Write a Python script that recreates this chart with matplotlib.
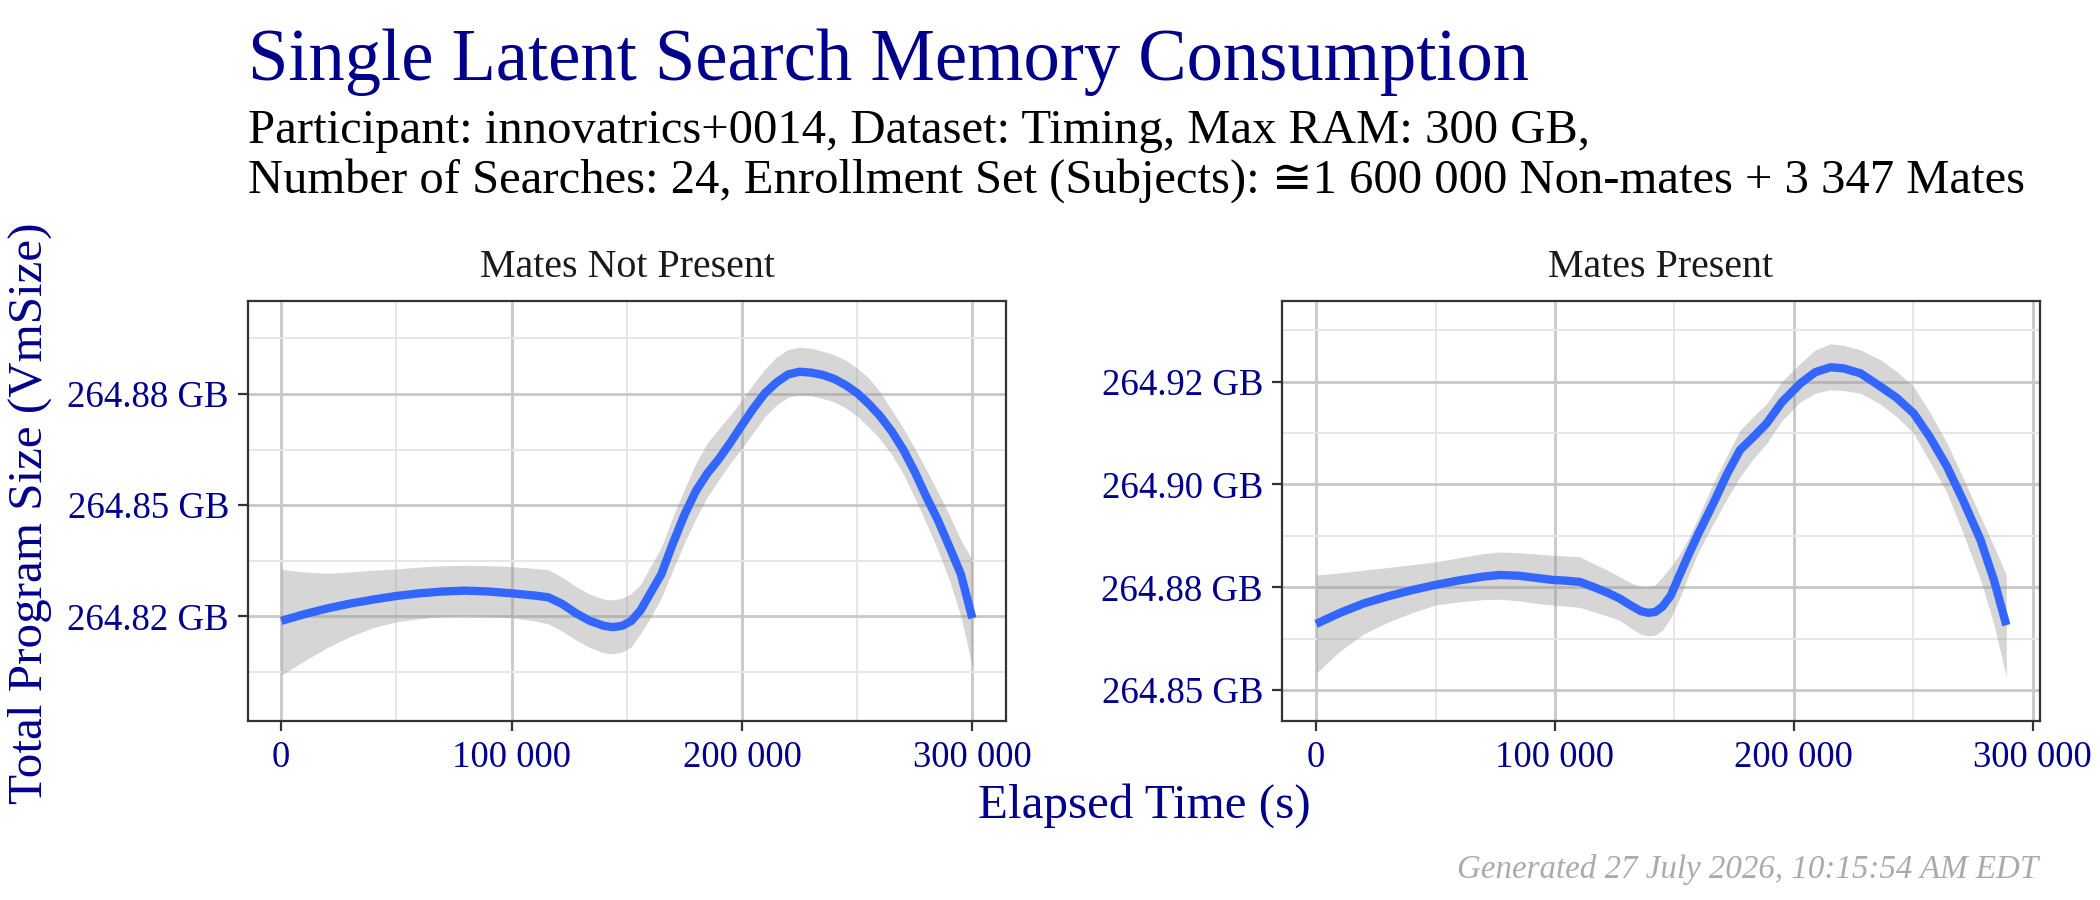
import matplotlib
matplotlib.use("Agg")
import matplotlib.pyplot as plt

# ---------------- data ----------------
title = "Single Latent Search Memory Consumption"
subtitle_1 = "Participant: innovatrics+0014, Dataset: Timing, Max RAM: 300 GB,"
subtitle_2 = "Number of Searches: 24, Enrollment Set (Subjects): \u22451 600 000 Non-mates + 3 347 Mates"
x_title = "Elapsed Time (s)"
y_title = "Total Program Size (VmSize)"
footer = "Generated 27 July 2026, 10:15:54 AM EDT"
facets = ["Mates Not Present", "Mates Present"]

# Mates Not Present (elapsed seconds, GB): smoothed fit and its confidence band
np_time = [0, 10000, 20000, 30000, 40000, 50000, 60000, 70000, 80000, 90000,
           100000, 110000, 116000, 122000, 128000, 134000, 140000, 144000, 148000, 152000,
           156000, 160000, 165000, 170000, 175000, 180000, 185000, 190000, 195000, 200000,
           205000, 210000, 215000, 220000, 225000, 230000, 235000, 240000, 245000, 250000,
           255000, 260000, 265000, 270000, 275000, 280000, 285000, 290000, 295000, 300000]
np_fit = [264.8240, 264.8255, 264.8268, 264.8279, 264.8288, 264.8296, 264.8302, 264.8306, 264.8308, 264.8306,
          264.8302, 264.8297, 264.8293, 264.8278, 264.8257, 264.8240, 264.8229, 264.8226, 264.8229, 264.8240,
          264.8264, 264.8300, 264.8345, 264.8414, 264.8478, 264.8532, 264.8572, 264.8604, 264.8641, 264.8680,
          264.8718, 264.8752, 264.8776, 264.8794, 264.8800, 264.8798, 264.8793, 264.8784, 264.8770, 264.8752,
          264.8728, 264.8700, 264.8666, 264.8625, 264.8575, 264.8519, 264.8467, 264.8407, 264.8345, 264.8246]
np_upper = [264.8356, 264.8350, 264.8347, 264.8350, 264.8354, 264.8357, 264.8361, 264.8364, 264.8365, 264.8364,
            264.8362, 264.8358, 264.8355, 264.8338, 264.8317, 264.8300, 264.8289, 264.8287, 264.8291, 264.8302,
            264.8322, 264.8360, 264.8405, 264.8474, 264.8535, 264.8595, 264.8640, 264.8672, 264.8703, 264.8737,
            264.8773, 264.8806, 264.8833, 264.8850, 264.8855, 264.8853, 264.8846, 264.8838, 264.8826, 264.8808,
            264.8786, 264.8754, 264.8714, 264.8673, 264.8628, 264.8580, 264.8530, 264.8478, 264.8422, 264.8377]
np_lower = [264.8118, 264.8150, 264.8180, 264.8205, 264.8225, 264.8238, 264.8245, 264.8250, 264.8251, 264.8250,
            264.8247, 264.8240, 264.8233, 264.8217, 264.8197, 264.8180, 264.8168, 264.8166, 264.8170, 264.8182,
            264.8212, 264.8245, 264.8292, 264.8354, 264.8415, 264.8470, 264.8520, 264.8557, 264.8595, 264.8628,
            264.8664, 264.8700, 264.8725, 264.8743, 264.8748, 264.8746, 264.8740, 264.8732, 264.8719, 264.8700,
            264.8676, 264.8648, 264.8614, 264.8570, 264.8517, 264.8459, 264.8400, 264.8332, 264.8250, 264.8137]

# Mates Present
mp_time = [0, 10000, 20000, 30000, 40000, 50000, 60000, 70000, 77000, 85000,
           92000, 99000, 105000, 110500, 116000, 122000, 127000, 132000, 136000, 139000,
           142000, 145000, 148500, 152500, 156000, 160000, 166300, 172000, 177500, 183000,
           188700, 195000, 202800, 209000, 215400, 221000, 228000, 236300, 243000, 250200,
           257000, 264200, 271000, 278200, 283800, 289000]
mp_fit = [264.8661, 264.8688, 264.8711, 264.8728, 264.8743, 264.8756, 264.8767, 264.8776, 264.8780, 264.8778,
          264.8773, 264.8768, 264.8766, 264.8763, 264.8751, 264.8737, 264.8723, 264.8705, 264.8692, 264.8688,
          264.8690, 264.8703, 264.8730, 264.8784, 264.8830, 264.8880, 264.8954, 264.9025, 264.9084, 264.9115,
          264.9149, 264.9200, 264.9246, 264.9273, 264.9285, 264.9282, 264.9270, 264.9238, 264.9211, 264.9173,
          264.9115, 264.9043, 264.8960, 264.8865, 264.8768, 264.8658]
mp_upper = [264.8780, 264.8785, 264.8792, 264.8798, 264.8805, 264.8812, 264.8822, 264.8832, 264.8836, 264.8834,
            264.8831, 264.8828, 264.8826, 264.8824, 264.8808, 264.8792, 264.8776, 264.8760, 264.8752, 264.8751,
            264.8756, 264.8775, 264.8800, 264.8833, 264.8870, 264.8920, 264.9003, 264.9070, 264.9132, 264.9165,
            264.9197, 264.9250, 264.9295, 264.9327, 264.9342, 264.9338, 264.9327, 264.9303, 264.9275, 264.9238,
            264.9175, 264.9100, 264.9015, 264.8922, 264.8850, 264.8780]
mp_lower = [264.8541, 264.8595, 264.8637, 264.8665, 264.8688, 264.8707, 264.8715, 264.8720, 264.8721, 264.8717,
            264.8711, 264.8707, 264.8704, 264.8701, 264.8691, 264.8680, 264.8670, 264.8650, 264.8636, 264.8632,
            264.8634, 264.8646, 264.8675, 264.8727, 264.8780, 264.8835, 264.8905, 264.8965, 264.9019, 264.9062,
            264.9100, 264.9155, 264.9201, 264.9222, 264.9230, 264.9228, 264.9222, 264.9195, 264.9165, 264.9124,
            264.9055, 264.8979, 264.8880, 264.8768, 264.8660, 264.8532]

x_breaks = [0, 100000, 200000, 300000]
x_labels = ["0", "100 000", "200 000", "300 000"]
x_minor = [50000, 150000, 250000]

np_y_breaks = [264.825, 264.85, 264.875]
np_y_labels = ["264.82 GB", "264.85 GB", "264.88 GB"]
np_y_minor = [264.8125, 264.8375, 264.8625, 264.8875]
np_xlim = [-14400, 314600]
np_ylim = [264.8015, 264.8959]

mp_y_breaks = [264.85, 264.875, 264.9, 264.925]
mp_y_labels = ["264.85 GB", "264.88 GB", "264.90 GB", "264.92 GB"]
mp_y_minor = [264.8625, 264.8875, 264.9125, 264.9375]
mp_xlim = [-14300, 303100]
mp_ylim = [264.8425, 264.9446]

# ---------------- style ----------------
plt.rcParams['font.family'] = ['Liberation Serif', 'DejaVu Serif', 'DejaVu Sans']
DARKBLUE = "#00008B"
W, H = 2100, 900
fig = plt.figure(figsize=(21, 9), dpi=100)
renderer = fig.canvas.get_renderer()


def fit(text, target_px, **kw):
    t = fig.text(0, 0, text, fontsize=20, **kw)
    w = t.get_window_extent(renderer=renderer).width
    t.remove()
    return 20 * target_px / w


title_fs = fit(title, 1282)
sub_fs = fit(subtitle_2, 1775)
strip_fs = fit(facets[0], 295)
tick_fs = fit("264.88 GB", 161)
axis_fs = fit(x_title, 334)
foot_fs = fit(footer, 581, style='italic')

panels = [
    (facets[0], np_time, np_fit, np_lower, np_upper, np_y_breaks, np_y_labels, np_y_minor,
     np_xlim, np_ylim, 248),
    (facets[1], mp_time, mp_fit, mp_lower, mp_upper, mp_y_breaks, mp_y_labels, mp_y_minor,
     mp_xlim, mp_ylim, 1282),
]

for (name, xs, fit_y, lo, up, yb, yl, ym, xlim, ylim, left_px) in panels:
    ax = fig.add_axes([left_px / W, 1 - 721 / H, 758 / W, 420 / H])
    ax.set_facecolor("white")
    ax.set_xlim(xlim)
    ax.set_ylim(ylim)
    ax.set_xticks(x_breaks)
    ax.set_xticklabels(x_labels)
    ax.set_xticks(x_minor, minor=True)
    ax.set_yticks(yb)
    ax.set_yticklabels(yl)
    ax.set_yticks(ym, minor=True)
    ax.grid(True, which='major', color='#C8C8C8', linewidth=2.0, zorder=0)
    ax.grid(True, which='minor', color='#E6E6E6', linewidth=1.4, zorder=0)
    ax.set_axisbelow(True)
    ax.tick_params(which='major', length=7.2, width=1.6, color='#333333', pad=6.5,
                   labelsize=tick_fs, labelcolor=DARKBLUE)
    ax.tick_params(which='minor', length=0)
    for s in ax.spines.values():
        s.set_color('#333333')
        s.set_linewidth(1.6)
        s.set_zorder(5)
    ax.fill_between(xs, lo, up, color='#999999', alpha=0.4, linewidth=0, zorder=2)
    ax.plot(xs, fit_y, color='#3366FF', linewidth=6.0, solid_capstyle='butt',
            solid_joinstyle='round', zorder=3)
    fig.text((left_px + 379) / W, 1 - 277 / H, name, ha='center', va='baseline',
             fontsize=strip_fs, color='#1A1A1A')

fig.text(248 / W, 1 - 80 / H, title, ha='left', va='baseline', fontsize=title_fs, color=DARKBLUE)
fig.text(248 / W, 1 - 143 / H, subtitle_1, ha='left', va='baseline', fontsize=sub_fs, color='black')
fig.text(248 / W, 1 - 193 / H, subtitle_2, ha='left', va='baseline', fontsize=sub_fs, color='black')
fig.text(1144 / W, 1 - 818 / H, x_title, ha='center', va='baseline', fontsize=axis_fs, color=DARKBLUE)
fig.text(30 / W, 1 - 513 / H, y_title, ha='center', va='center', rotation=90,
         fontsize=axis_fs, color=DARKBLUE)
fig.text(2038 / W, 1 - 878 / H, footer, ha='right', va='baseline', fontsize=foot_fs,
         style='italic', color='#ABABAB')

fig.savefig("out.png", dpi=100, facecolor='white')
